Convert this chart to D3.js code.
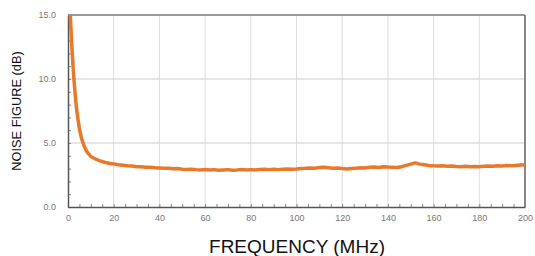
<!DOCTYPE html>
<html>
<head>
<meta charset="utf-8">
<script src="https://cdn.jsdelivr.net/npm/d3@7"></script>
<style>
  body { margin: 0; background: #fff; }
  .tick text { font-family: "Liberation Sans", Arial, sans-serif; }
</style>
</head>
<body>
<div id="chart"></div>
<script>
var svgWidth = 535;
var svgHeight = 256;

var margin = { top: 15, right: 10, bottom: 49, left: 68 };
var width = 457;
var height = 192;

// Data
var freqMHz = [1, 1.5, 2, 2.5, 3, 3.5, 4, 5, 6, 7, 8, 9, 10, 12, 14, 16, 18, 20,
  22, 24, 26, 28, 30, 32, 34, 36, 38, 40, 42, 44, 46, 48, 50, 52, 54, 56, 58, 60,
  62, 64, 66, 68, 70, 72, 74, 76, 78, 80, 82, 84, 86, 88, 90, 92, 94, 96, 98, 100,
  102, 104, 106, 108, 110, 112, 114, 116, 118, 120, 122, 124, 126, 128, 130, 132, 134, 136, 138, 140,
  142, 144, 146, 148, 150, 152, 154, 156, 158, 160, 162, 164, 166, 168, 170, 172, 174, 176, 178, 180,
  182, 184, 186, 188, 190, 192, 194, 196, 198, 200];
var noiseFigure = [15.0, 13.2, 11.6, 10.2, 9.1, 8.1, 7.3, 6.1, 5.3, 4.8, 4.4, 4.15, 3.95, 3.75, 3.6, 3.5, 3.42, 3.37,
  3.3, 3.27, 3.22, 3.2, 3.15, 3.14, 3.1, 3.1, 3.06, 3.05, 3.03, 3.02, 2.98, 3.0, 2.95, 2.93, 2.95, 2.92, 2.9, 2.93,
  2.9, 2.92, 2.88, 2.9, 2.92, 2.88, 2.9, 2.93, 2.9, 2.92, 2.9, 2.93, 2.95, 2.92, 2.94, 2.92, 2.95, 2.97, 2.95, 2.96,
  3.0, 3.02, 3.05, 3.03, 3.08, 3.1, 3.06, 3.02, 3.05, 3.0, 2.97, 3.0, 3.03, 3.06, 3.05, 3.1, 3.12, 3.08, 3.15, 3.12,
  3.1, 3.08, 3.15, 3.25, 3.35, 3.45, 3.35, 3.3, 3.25, 3.22, 3.2, 3.22, 3.18, 3.2, 3.17, 3.15, 3.18, 3.15, 3.17, 3.15,
  3.18, 3.2, 3.18, 3.22, 3.2, 3.24, 3.22, 3.25, 3.28, 3.3];
var xTicks = [0, 20, 40, 60, 80, 100, 120, 140, 160, 180, 200];
var yTicks = [0, 5, 10, 15];

var svg = d3.select("#chart")
  .append("svg")
  .attr("width", svgWidth)
  .attr("height", svgHeight);

var chartGroup = svg.append("g")
  .attr("transform", `translate(${margin.left}, ${margin.top})`);

var xScale = d3.scaleLinear().domain([0, 200]).range([0, width]);
var yScale = d3.scaleLinear().domain([0, 15]).range([height, 0]);

// grid
chartGroup.append("g")
  .selectAll("line")
  .data(xTicks.slice(1))
  .enter()
  .append("line")
  .attr("x1", d => xScale(d)).attr("x2", d => xScale(d))
  .attr("y1", 0).attr("y2", height)
  .attr("stroke", "#dcdcdc").attr("stroke-width", 1);

chartGroup.append("g")
  .selectAll("line")
  .data(yTicks.slice(1, 3))
  .enter()
  .append("line")
  .attr("x1", 0).attr("x2", width)
  .attr("y1", d => yScale(d)).attr("y2", d => yScale(d))
  .attr("stroke", "#dcdcdc").attr("stroke-width", 1.5);

// frame top / right
chartGroup.append("line")
  .attr("x1", 0).attr("x2", width).attr("y1", 0).attr("y2", 0)
  .attr("stroke", "#999").attr("stroke-width", 2);
chartGroup.append("line")
  .attr("x1", width).attr("x2", width).attr("y1", 0).attr("y2", height)
  .attr("stroke", "#666").attr("stroke-width", 1.5);

// minor ticks
var bottomMinor = d3.axisBottom(xScale).ticks(40).tickSize(-3).tickFormat("");
var leftMinor = d3.axisLeft(yScale).ticks(15).tickSize(-3).tickFormat("");
chartGroup.append("g").attr("transform", `translate(0, ${height})`).call(bottomMinor)
  .call(g => g.select(".domain").remove())
  .selectAll("line").attr("stroke", "#888");
chartGroup.append("g").call(leftMinor)
  .call(g => g.select(".domain").remove())
  .selectAll("line").attr("stroke", "#888");

// axes
var bottomAxis = d3.axisBottom(xScale).tickValues(xTicks).tickSize(0).tickPadding(8);
var leftAxis = d3.axisLeft(yScale).tickValues(yTicks).tickSize(0).tickPadding(12)
  .tickFormat(d3.format(".1f"));

var xAxisG = chartGroup.append("g")
  .attr("transform", `translate(0, ${height})`)
  .call(bottomAxis);
var yAxisG = chartGroup.append("g").call(leftAxis);

[xAxisG, yAxisG].forEach(function(g) {
  g.select(".domain").attr("stroke", "#555").attr("stroke-width", 1.5);
  g.selectAll("text").attr("fill", "#777").attr("font-size", 9);
});

// the curve
var line = d3.line()
  .x((d, i) => xScale(freqMHz[i]))
  .y(d => yScale(d));

chartGroup.append("path")
  .datum(noiseFigure)
  .attr("fill", "none")
  .attr("stroke", "#e8782a")
  .attr("stroke-width", 3.5)
  .attr("stroke-linejoin", "round")
  .attr("d", line);

// axis labels
svg.append("text")
  .attr("transform", "rotate(-90)")
  .attr("x", -111)
  .attr("y", 21)
  .style("text-anchor", "middle")
  .attr("font-family", "Liberation Sans, Arial, sans-serif")
  .attr("font-size", 12.8)
  .attr("fill", "#111")
  .text("NOISE FIGURE (dB)");

svg.append("text")
  .attr("x", 297)
  .attr("y", 253)
  .style("text-anchor", "middle")
  .attr("font-family", "Liberation Sans, Arial, sans-serif")
  .attr("font-size", 19)
  .attr("fill", "#111")
  .text("FREQUENCY (MHz)");
</script>
</body>
</html>
